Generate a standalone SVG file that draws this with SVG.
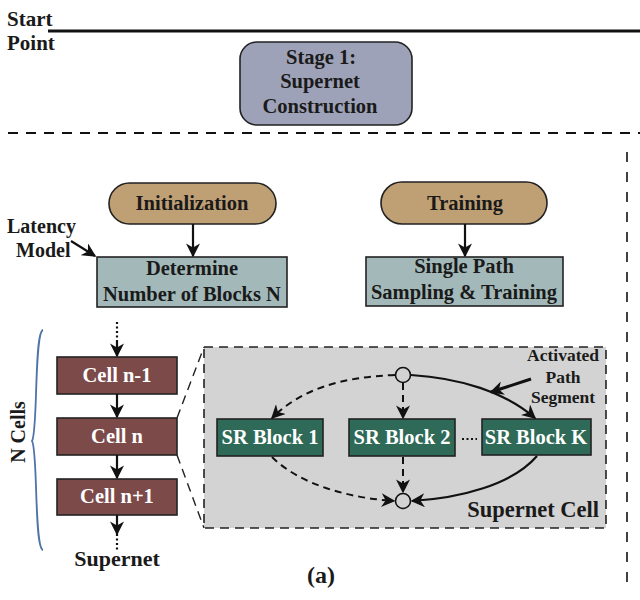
<svg xmlns="http://www.w3.org/2000/svg" width="640" height="600" viewBox="0 0 640 600">
<style>
text{font-family:"Liberation Serif","Times New Roman",serif;font-weight:bold;fill:#1a1a1a}
.c{text-anchor:middle}
.w{fill:#ffffff}
.box{stroke:#222;stroke-width:1.6}
.ln{stroke:#111;stroke-width:2.2;fill:none}
.dl{stroke:#111;stroke-width:2;fill:none;stroke-dasharray:7 5}
</style>
<defs>
<marker id="ahs" viewBox="0 0 10 10" refX="9" refY="5" markerWidth="14" markerHeight="14" orient="auto" markerUnits="userSpaceOnUse">
<path d="M0,0 L10,5 L0,10 L3,5 z" fill="#111"/>
</marker>
</defs>

<g id="header">
<text x="7" y="26" font-size="21">Start</text>
<text x="7" y="50" font-size="21">Point</text>
<line x1="48" y1="31" x2="640" y2="31" stroke="#111" stroke-width="3"/>
<line x1="8" y1="133" x2="640" y2="133" stroke="#111" stroke-width="2" stroke-dasharray="10 8"/>
<line x1="627" y1="152" x2="627" y2="592" stroke="#111" stroke-width="1.6" stroke-dasharray="10 10"/>
</g>

<g id="stage1">
<rect class="box" x="240" y="42" width="172" height="83" rx="17" fill="#9ea2b8"/>
<text class="c" x="321" y="64" font-size="20.5">Stage 1:</text>
<text class="c" x="320" y="88" font-size="20.5">Supernet</text>
<text class="c" x="320" y="113" font-size="20.5">Construction</text>
</g>

<g id="init">
<rect class="box" x="109" y="183" width="167" height="41" rx="20.5" fill="#bf9f74"/>
<text class="c" x="192" y="210" font-size="20.5">Initialization</text>
</g>
<g id="determine">
<rect class="box" x="97" y="257" width="190" height="50" fill="#a3b9b9"/>
<text class="c" x="192" y="275" font-size="20.5">Determine</text>
<text class="c" x="192" y="301" font-size="20.5">Number of Blocks N</text>
</g>
<g id="latency">
<text x="7" y="233" font-size="20">Latency</text>
<text x="16" y="257" font-size="20">Model</text>
</g>
<g id="training">
<rect class="box" x="381" y="182" width="166" height="42" rx="21" fill="#bf9f74"/>
<text class="c" x="465" y="210" font-size="20.5">Training</text>
</g>
<g id="singlepath">
<rect class="box" x="366" y="257" width="197" height="49" fill="#a3b9b9"/>
<text class="c" x="464" y="273" font-size="20.5">Single Path</text>
<text class="c" x="464" y="299" font-size="20.5">Sampling &amp; Training</text>
</g>

<g id="cells">
<rect class="box" x="57" y="357" width="120" height="37" fill="#7c4a49"/>
<text class="c w" x="117" y="382" font-size="20.5">Cell n-1</text>
<rect class="box" x="57" y="418" width="120" height="37" fill="#7c4a49"/>
<text class="c w" x="117" y="443" font-size="20.5">Cell n</text>
<rect class="box" x="57" y="479" width="120" height="36" fill="#7c4a49"/>
<text class="c w" x="117" y="503" font-size="20.5">Cell n+1</text>
<text class="c" x="117" y="566" font-size="22">Supernet</text>
<path d="M43,330 C34,332 38,432 32,441 C38,450 34,548 43,550" fill="none" stroke="#4f73a8" stroke-width="1.8"/>
<text class="c" font-size="20" transform="translate(25,432) rotate(-90)">N Cells</text>
</g>

<g id="supernet-cell">
<rect x="204" y="347" width="402" height="181" fill="#d3d3d3" stroke="#222" stroke-width="1.6" stroke-dasharray="9 6"/>
<text x="599" y="517" font-size="22.5" text-anchor="end">Supernet Cell</text>
<text class="c" x="563" y="361" font-size="17.5">Activated</text>
<text class="c" x="563" y="383" font-size="17.5">Path</text>
<text class="c" x="563" y="403" font-size="17.5">Segment</text>
</g>
<g id="srblock1">
<rect class="box" x="217" y="419" width="106" height="37" fill="#2e6a57"/>
<text class="c w" x="270" y="444" font-size="20.5">SR Block 1</text>
</g>
<g id="srblock2">
<rect class="box" x="349" y="419" width="106" height="37" fill="#2e6a57"/>
<text class="c w" x="402" y="444" font-size="20.5">SR Block 2</text>
</g>
<g id="srblockk">
<rect class="box" x="482" y="419" width="109" height="36" fill="#2e6a57"/>
<text class="c w" x="536" y="444" font-size="20.5">SR Block K</text>
</g>
<g id="nodes">
<circle cx="403" cy="375" r="7.5" fill="#d3d3d3" stroke="#111" stroke-width="1.6"/>
<circle cx="403" cy="501" r="7.5" fill="#d3d3d3" stroke="#111" stroke-width="1.6"/>
</g>

<g id="connectors">
<line class="ln" x1="193" y1="224" x2="193" y2="256" marker-end="url(#ahs)"/>
<line class="ln" x1="465" y1="224" x2="465" y2="256" marker-end="url(#ahs)"/>
<line class="ln" x1="71" y1="241" x2="95" y2="256" marker-end="url(#ahs)"/>
<line x1="117" y1="322" x2="117" y2="343" stroke="#111" stroke-width="2.2" stroke-dasharray="2 2.5"/>
<line class="ln" x1="117" y1="342" x2="117" y2="356" marker-end="url(#ahs)"/>
<line class="ln" x1="117" y1="394" x2="117" y2="417" marker-end="url(#ahs)"/>
<line class="ln" x1="117" y1="455" x2="117" y2="478" marker-end="url(#ahs)"/>
<line class="ln" x1="117" y1="515" x2="117" y2="534" marker-end="url(#ahs)"/>
<line x1="117" y1="534" x2="117" y2="551" stroke="#111" stroke-width="2.2" stroke-dasharray="2 2.5"/>
<line x1="177" y1="418" x2="204" y2="347" stroke="#222" stroke-width="1.4" stroke-dasharray="9 6"/>
<line x1="177" y1="455" x2="204" y2="528" stroke="#222" stroke-width="1.4" stroke-dasharray="9 6"/>
<path class="dl" d="M395,375 C340,377 300,390 272,418" marker-end="url(#ahs)"/>
<path class="dl" d="M272,457 C300,485 350,498 394,501" marker-end="url(#ahs)"/>
<line class="dl" x1="403" y1="383" x2="403" y2="418" marker-end="url(#ahs)"/>
<line class="dl" x1="403" y1="457" x2="403" y2="492" marker-end="url(#ahs)"/>
<path class="ln" d="M411,375 C460,378 505,392 535,418" marker-end="url(#ahs)"/>
<path class="ln" d="M537,456 C512,485 460,498 412,501" marker-end="url(#ahs)"/>
<line x1="531" y1="379" x2="491" y2="392" stroke="#111" stroke-width="3" marker-end="url(#ahs)"/>
<line x1="462" y1="439" x2="477" y2="439" stroke="#111" stroke-width="2.2" stroke-dasharray="2 2.5"/>
</g>

<g id="caption">
<text class="c" x="321" y="583" font-size="24">(a)</text>
</g>
</svg>
